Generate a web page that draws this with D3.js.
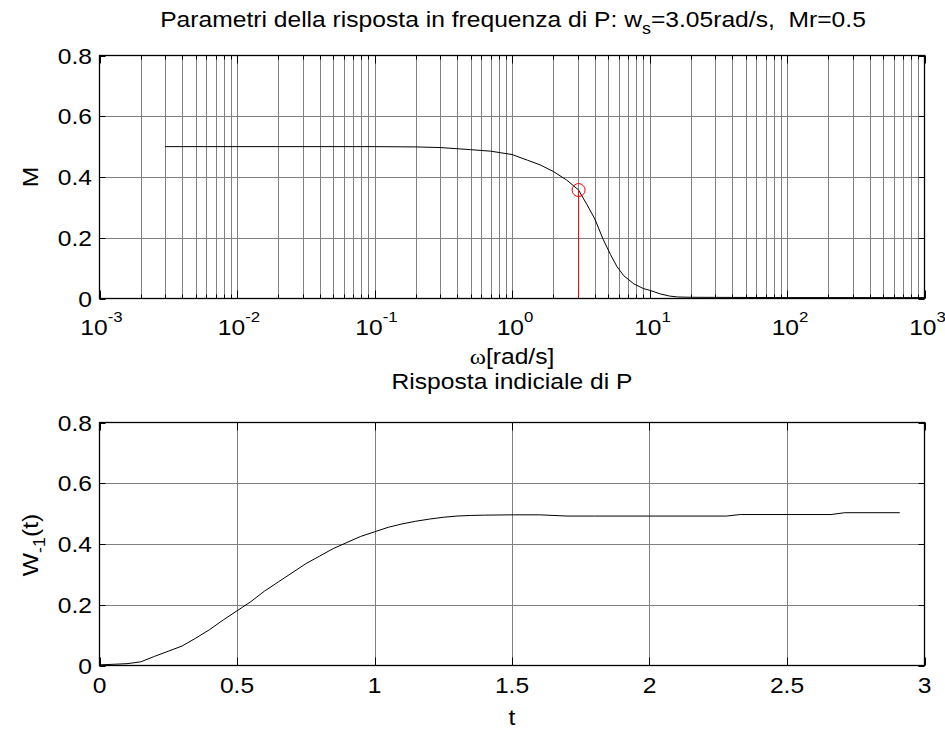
<!DOCTYPE html>
<html><head><meta charset="utf-8">
<script src="https://cdn.jsdelivr.net/npm/d3@7"></script>
<style>
html,body{margin:0;padding:0;background:#fff;}
svg text{font-family:"Liberation Sans",Arial,Helvetica,sans-serif;fill:#000;white-space:pre;}
</style></head><body>
<script>
// ---------------- data ----------------
const freqOmega = [0.003,0.01,0.05,0.1,0.2,0.3,0.5,0.7,1.0,1.3,1.6,2.0,2.5,3.05,3.5,4.0,4.6,5.2,5.8,6.5,7.7,9,10.2,12,14,16,20,100,1000];
const freqM     = [0.5,0.5,0.5,0.5,0.499,0.497,0.49,0.485,0.474,0.455,0.44,0.418,0.39,0.357,0.31,0.262,0.195,0.145,0.105,0.075,0.048,0.033,0.026,0.015,0.008,0.005,0.004,0.003,0.003];
const stepT = [0,0.05,0.1,0.15,0.2,0.25,0.3,0.35,0.4,0.45,0.5,0.55,0.6,0.65,0.7,0.75,0.8,0.85,0.9,0.95,1.0,1.05,1.1,1.15,1.2,1.25,1.3,1.35,1.4,1.5,1.6,1.7,1.8,2.0,2.28,2.33,2.66,2.71,2.91];
const stepY = [0.002,0.004,0.006,0.012,0.03,0.047,0.064,0.09,0.118,0.15,0.18,0.21,0.245,0.275,0.305,0.335,0.36,0.385,0.405,0.425,0.44,0.455,0.466,0.475,0.482,0.488,0.492,0.494,0.495,0.496,0.496,0.492,0.492,0.492,0.492,0.497,0.497,0.503,0.503];
const wsValue = 3.05, mAtWs = 0.357, mrValue = 0.5;
const yTicks = [0,0.2,0.4,0.6,0.8];
const yTickLabels = ["0","0.2","0.4","0.6","0.8"];
const logDecades = [-3,-2,-1,0,1,2,3];
const tTicks = [0,0.5,1,1.5,2,2.5,3];
const tTickLabels = ["0","0.5","1","1.5","2","2.5","3"];

// ---------------- layout ----------------
const W=945,H=731;
const X0=99.5,X1=924.5;
const A={top:55.5,bot:298.5};
const B={top:422.5,bot:665.5};
const SX=1.12; // horizontal text stretch
const FS=22;

const svg=d3.select("body").append("svg").attr("width",W).attr("height",H);
svg.append("rect").attr("width",W).attr("height",H).attr("fill","#fff");

function label(x,y,parts,opt={}){
  const g=svg.append("g").attr("transform",`translate(${x},${y}) ${opt.rot?`rotate(${opt.rot})`:""} scale(${SX},1)`);
  const t=g.append("text").attr("text-anchor",opt.anchor||"middle").attr("font-size",opt.size||FS);
  parts.forEach(p=>{
    const s=t.append("tspan").text(p.t);
    if(p.dy) s.attr("dy",p.dy);
    if(p.size) s.attr("font-size",p.size);
    if(p.family) s.attr("font-family",p.family);
  });
  return t;
}

// ===== Top axes (log) =====
const xLog=d3.scaleLog().domain([1e-3,1e3]).range([X0,X1]);
const yA=d3.scaleLinear().domain([0,0.8]).range([A.bot,A.top]);
const gA=svg.append("g");
const minorVals=[];
logDecades.slice(0,-1).forEach(k=>{for(let m=2;m<=9;m++)minorVals.push(m*Math.pow(10,k));});
const majorVals=logDecades.map(k=>Math.pow(10,k));
// grid
gA.selectAll(".vg").data(minorVals.concat(majorVals.slice(1,-1))).enter().append("line")
  .attr("x1",d=>Math.round(xLog(d))+0.5).attr("x2",d=>Math.round(xLog(d))+0.5)
  .attr("y1",A.top).attr("y2",A.bot).attr("stroke","#808080").attr("stroke-width",1);
gA.selectAll(".hg").data(yTicks.slice(1,-1)).enter().append("line")
  .attr("x1",X0).attr("x2",X1).attr("y1",d=>Math.round(yA(d))+0.5).attr("y2",d=>Math.round(yA(d))+0.5)
  .attr("stroke","#808080").attr("stroke-width",1);
// ticks
function vt(g,vals,x,len,top,bot){
  vals.forEach(v=>{
    const px=Math.round(x(v))+0.5;
    g.append("line").attr("x1",px).attr("x2",px).attr("y1",bot).attr("y2",bot-len).attr("stroke","#000");
    g.append("line").attr("x1",px).attr("x2",px).attr("y1",top).attr("y2",top+len).attr("stroke","#000");
  });
}
function ht(g,vals,y,len){
  vals.forEach(v=>{
    const py=Math.round(y(v))+0.5;
    g.append("line").attr("x1",X0).attr("x2",X0+len).attr("y1",py).attr("y2",py).attr("stroke","#000");
    g.append("line").attr("x1",X1).attr("x2",X1-len).attr("y1",py).attr("y2",py).attr("stroke","#000");
  });
}
vt(gA,minorVals,xLog,4,A.top,A.bot);
vt(gA,majorVals,xLog,8,A.top,A.bot);
ht(gA,yTicks,yA,6);
// curve
gA.append("path").datum(freqOmega.map((w,i)=>[w,freqM[i]]))
  .attr("d",d3.line().x(d=>xLog(d[0])).y(d=>yA(d[1])))
  .attr("fill","none").attr("stroke","#000").attr("stroke-width",1);
// marker
gA.append("line").attr("x1",xLog(wsValue)).attr("x2",xLog(wsValue)).attr("y1",yA(mAtWs)).attr("y2",A.bot)
  .attr("stroke","#ff0000").attr("stroke-width",1);
gA.append("circle").attr("cx",xLog(wsValue)).attr("cy",yA(mAtWs)).attr("r",6.5)
  .attr("fill","none").attr("stroke","#ff0000").attr("stroke-width",1);
// box
gA.append("rect").attr("x",X0).attr("y",A.top).attr("width",X1-X0).attr("height",A.bot-A.top)
  .attr("fill","none").attr("stroke","#000").attr("stroke-width",1.3);
// tick labels
yTicks.forEach((v,i)=>label(92,yA(v)+8,[{t:yTickLabels[i]}],{anchor:"end"}));
logDecades.forEach(k=>label(xLog(Math.pow(10,k))+(k<0?2:3),335,[{t:"10"},{t:String(k),dy:-13,size:15}]));
label(512,364,[{t:"ω",family:"Liberation Serif"},{t:"[rad/s]"}]);
label(38,177,[{t:"M"}],{rot:-90});
label(513,27,[{t:"Parametri della risposta in frequenza di P: w"},{t:"s",dy:7,size:16},{t:"=3.05rad/s,  Mr="+mrValue,dy:-7}],{size:22});

// ===== Bottom axes =====
const xT=d3.scaleLinear().domain([0,3]).range([X0,X1]);
const yB=d3.scaleLinear().domain([0,0.8]).range([B.bot,B.top]);
const gB=svg.append("g");
gB.selectAll(".vg").data(tTicks.slice(1,-1)).enter().append("line")
  .attr("x1",d=>Math.round(xT(d))+0.5).attr("x2",d=>Math.round(xT(d))+0.5)
  .attr("y1",B.top).attr("y2",B.bot).attr("stroke","#808080");
gB.selectAll(".hg").data(yTicks.slice(1,-1)).enter().append("line")
  .attr("x1",X0).attr("x2",X1).attr("y1",d=>Math.round(yB(d))+0.5).attr("y2",d=>Math.round(yB(d))+0.5)
  .attr("stroke","#808080");
vt(gB,tTicks,xT,8,B.top,B.bot);
ht(gB,yTicks,yB,6);
gB.append("path").datum(stepT.map((t,i)=>[t,stepY[i]]))
  .attr("d",d3.line().x(d=>xT(d[0])).y(d=>yB(d[1])))
  .attr("fill","none").attr("stroke","#000").attr("stroke-width",1);
gB.append("rect").attr("x",X0).attr("y",B.top).attr("width",X1-X0).attr("height",B.bot-B.top)
  .attr("fill","none").attr("stroke","#000").attr("stroke-width",1.3);
yTicks.forEach((v,i)=>label(92,yB(v)+8,[{t:yTickLabels[i]}],{anchor:"end"}));
tTicks.forEach((v,i)=>label(xT(v),693,[{t:tTickLabels[i]}]));
label(512,725,[{t:"t"}]);
label(512,389,[{t:"Risposta indiciale di P"}],{size:22});
label(38,545,[{t:"W"},{t:"-1",dy:7,size:16},{t:"(t)",dy:-7}],{rot:-90});
</script>
</body></html>
